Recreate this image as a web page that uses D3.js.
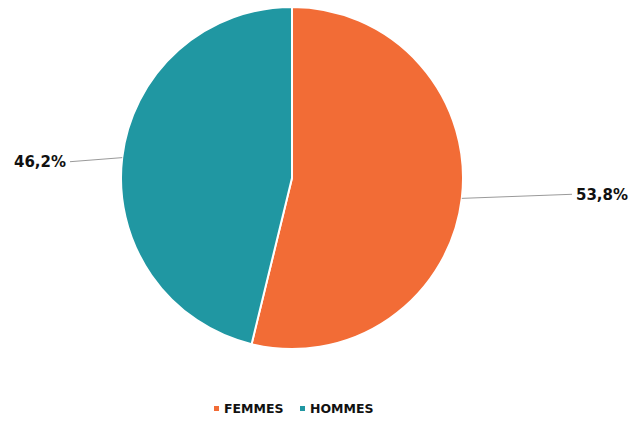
<!DOCTYPE html>
<html><head><meta charset="utf-8">
<script src="https://cdn.jsdelivr.net/npm/d3@7"></script>
<style>html,body{margin:0;padding:0;background:#fff;}svg{display:block;}</style>
</head><body>
<script>
const categories = ["FEMMES", "HOMMES"];
const values = [53.8, 46.2];
const labels = ["53,8%", "46,2%"];
const colors = ["#F26C36", "#2097A2"];

const W = 632, H = 421, cx = 292, cy = 178, R = 171;
const svg = d3.select("body").append("svg").attr("width", W).attr("height", H);
const g = svg.append("g").attr("transform", `translate(${cx},${cy})`);
const pie = d3.pie().sort(null).value(d => d.v);
const data = pie(categories.map((c, i) => ({c, v: values[i], l: labels[i], col: colors[i]})));
const arc = d3.arc().innerRadius(0).outerRadius(R);
g.selectAll("path.slice").data(data).join("path")
  .attr("class", "slice").attr("d", arc)
  .attr("fill", d => d.data.col).attr("stroke", "#fff").attr("stroke-width", 2);

const font = "DejaVu Sans, sans-serif";
data.forEach(d => {
  const a = (d.startAngle + d.endAngle) / 2;
  const sx = R * Math.sin(a), sy = -R * Math.cos(a);
  const side = sx > 0 ? 1 : -1;
  const ex = side > 0 ? 280 : -222;
  const ey = sy * 0.8;
  g.append("line").attr("x1", sx).attr("y1", sy).attr("x2", ex).attr("y2", ey)
    .attr("stroke", "#9a9a9a").attr("stroke-width", 1);
  g.append("text").attr("x", ex + side * 4).attr("y", ey)
    .attr("dy", "0.35em")
    .attr("text-anchor", side > 0 ? "start" : "end")
    .attr("font-family", font).attr("font-weight", 700)
    .attr("font-size", 15).attr("fill", "#111").text(d.data.l);
});

const legend = svg.append("g");
const lx = [214, 300];
categories.forEach((c, i) => {
  legend.append("rect").attr("x", lx[i]).attr("y", 406).attr("width", 5).attr("height", 5).attr("fill", colors[i]);
  legend.append("text").attr("x", lx[i] + 10).attr("y", 409).attr("dy", "0.35em")
    .attr("font-family", font).attr("font-weight", 700)
    .attr("font-size", 12.5).attr("fill", "#111").text(c);
});
</script>
</body></html>
